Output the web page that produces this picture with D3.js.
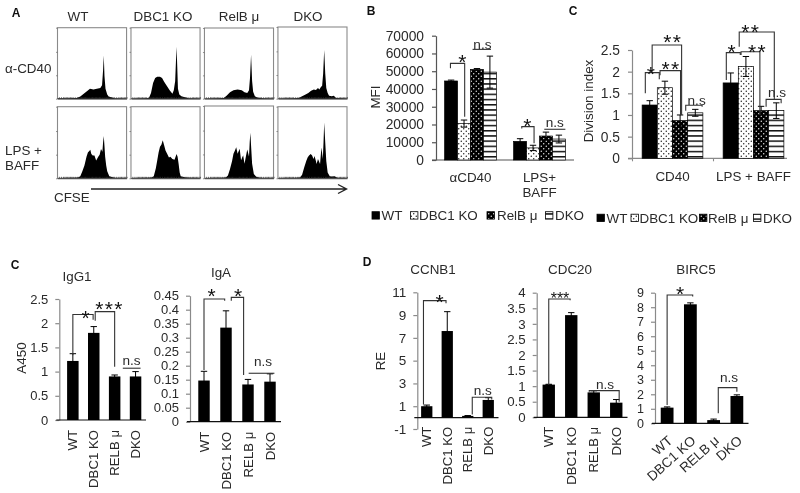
<!DOCTYPE html>
<html><head><meta charset="utf-8">
<script src="https://cdn.jsdelivr.net/npm/d3@7"></script>
<style>html,body{margin:0;padding:0;background:#fff;overflow:hidden}svg{display:block;filter:blur(.35px)}text{font-family:"Liberation Sans",Arial,sans-serif;fill:#2a2a2a}</style>
</head><body><svg id="c" width="800" height="493"></svg>
<script>
// ---------- DATA ----------
const genotypes = ["WT","DBC1 KO","RelB μ","DKO"];
const genotypesUpper = ["WT","DBC1 KO","RELB μ","DKO"];
// panel A histograms: [CFSE channel %, count %]
const histCD40 = [
 [[0,.5],[15,.8],[28,1],[33,3],[38,7],[43,11],[47,14],[52,13],[57,14],[62,15],[64.5,19],[66,40],[67,61],[68,32],[69.5,14],[72,6],[74,3],[78,2],[82,.7],[100,.4]],
 [[0,.4],[20,.6],[26,1],[29,8],[32,22],[35,29],[38,31],[42,31],[45,29],[48,24],[52,18],[56,12],[60,7],[62,12],[64,25],[65,50],[66,73],[67,45],[68,14],[70,6],[73,3.5],[78,2],[83,.8],[100,.4]],
 [[0,.4],[20,.6],[28,1],[32,4],[37,9],[42,12],[48,13],[54,12],[58,9],[62,8],[64.5,12],[66,30],[67.5,62],[69,25],[70.5,10],[73,3.5],[77,1.5],[85,.8],[100,.4]],
 [[0,.4],[22,.6],[30,1],[35,3.5],[40,6],[44,8],[48,11],[52,13],[55,12],[58,15],[60,13],[62,16],[64,18],[65.5,35],[67,68],[68.5,35],[70,15],[72,8],[74,4],[78,3.5],[81,4],[84,1],[100,.4]]
];
const histLPS = [
 [[0,.4],[20,.6],[30,1],[33,3],[36,10],[39,18],[42,30],[44,36],[46,38],[47.5,40],[49,34],[51,32],[53.5,32],[56,25],[59,30],[61,33],[63,41],[65,37],[66,50],[67,59],[68,45],[69,30],[70.5,18],[72,10],[75,3],[82,.8],[100,.4]],
 [[0,.4],[20,.6],[30,1],[33,3],[36,14],[38,25],[40,36],[42,44],[44,47],[46,53],[48,46],[50,39],[52,35],[55,29],[57,30],[60,27],[63,26],[65,31],[66,34],[67.5,30],[69,20],[70.5,8],[72,3],[79,1],[100,.4]],
 [[0,.4],[22,.6],[31,1],[34,4],[37,13],[40,24],[42,34],[44,38],[46,43],[48,34],[51,41],[53,25],[56,32],[58,20],[60,30],[62,40],[64.5,30],[65.5,50],[66.5,63],[67.5,45],[69,20],[71.5,6],[75,2],[80,.6],[100,.4]],
 [[0,.4],[24,.6],[32,1],[35,5],[38,15],[41,24],[43,29],[45,32],[47.5,34],[49.5,32],[51.5,27],[53,31],[55,24],[56,20],[58,27],[61,20],[62,32],[63,43],[65,27],[66,50],[67,78],[68.5,50],[70,24],[72,8],[75,3],[78,2.5],[82,3],[86,.8],[100,.4]]
];
const histMinorTicks = [2,5,8,10,12,14,16,18,20,22,25,28,30,32,34,36,38,40,42,45,48,50,52,54,56,58,60,62,65,68,70,72,74,76,78,80,82,85,88,90,92,94,96,98,100];
const histCountTicks = [0,33,66,100];

// panel B
const mfiGroups = ["αCD40","LPS+\nBAFF"];
const mfiValues = [[44500,20500,51000,49500],[10500,6800,13500,11800]];
const mfiErrors = [[500,2000,500,9000],[1500,1500,2200,2200]];
const mfiTicks = [0,10000,20000,30000,40000,50000,60000,70000];
const mfiBrackets = [[0,-.05,51600,54400,1.05,24400],[0,1.66,62300,62300,3.08,62300],[1,.13,17800,18800,1.08,9400],[1,1.87,17300,17300,3.5,17300]];
const mfiNotes = [[0,.79,57800,"*"],[0,2.42,62500,"n.s"],[1,.47,22100,"*"],[1,2.68,18400,"n.s"]];

// panel C top
const divGroups = ["CD40","LPS + BAFF"];
const divValues = [[1.23,1.63,.87,1.05],[1.74,2.12,1.1,1.1]];
const divErrors = [[.1,.15,.13,.08],[.23,.23,.1,.18]];
const divTicks = [0,.5,1,1.5,2,2.5];
const divBrackets = [[0,-.29,1.5,1.977,.63,1.823],[0,.16,2,2.615,2.1,1],[0,.68,1.92,2.023,2.03,1],[0,2.37,1.1,1.223,3.45,1.19],
 [1,-.29,1.81,2.44,.63,2.385],[1,.56,2.577,2.915,2.87,1.346],[1,.68,2.385,2.46,1.92,1],[1,2.33,1.19,1.36,3.32,1.27]];
const divNotes = [[0,0,2.06,"*"],[0,1.4,2.79,"* *"],[0,1.29,2.18,"* *"],[0,3.09,1.23,"n.s"],[1,-.02,2.58,"*"],[1,1.2,3.04,"* *"],[1,1.65,2.56,"* *"],[1,3.05,1.41,"n.s"]];

// panel C bottom
const igg1Values = [1.22,1.8,.9,.9], igg1Errors = [.15,.13,.03,.1], igg1Ticks = [0,.5,1,1.5,2,2.5];
const igg1Brackets = [[0,1.34,2.18,.97,2.07],[1.07,2.05,2.24,2,1.1],[2.39,1.07,1.07,3.24,1.07]];
const igg1Notes = [[.56,2.22,"*"],[1.67,2.39,"* * *"],[2.81,1.14,"n.s"]];
const igaValues = [.147,.336,.133,.143], igaErrors = [.033,.06,.018,.028], igaTicks = [0,.05,.1,.15,.2,.25,.3,.35,.4,.45];
const igaBrackets = [[0,.185,.438,.94,.432],[1.24,.432,.444,1.8,.167],[2.03,.173,.173,3.2,.173]];
const igaNotes = [[.29,.468,"*"],[1.5,.468,"*"],[2.68,.199,"n.s"]];

// panel D
const ccnb1Values = [1,7.6,.15,1.55], ccnb1Errors = [.1,1.7,.03,.2], ccnb1Ticks = [-1,1,3,5,7,9,11];
const ccnb1Brackets = [[-.16,1.15,10.27,.94,10.04],[2.22,.27,1.79,3.17,1.58]];
const ccnb1Notes = [[.57,10.6,"*"],[2.73,2.02,"n.s"]];
const cdc20Values = [1.05,3.28,.8,.47], cdc20Errors = [.01,.08,.05,.1], cdc20Ticks = [0,.5,1,1.5,2,2.5,3,3.5,4];
const cdc20Brackets = [[0,1.04,3.8,.95,3.76],[1.8,.82,.855,3.13,.5]];
const cdc20Notes = [[.5,3.93,"***"],[2.5,.91,"n.s"]];
const birc5Values = [1.08,8.2,.22,1.88], birc5Errors = [.05,.1,.07,.08], birc5Ticks = [0,1,2,3,4,5,6,7,8,9];
const birc5Brackets = [[0,1.26,8.84,1.1,8.73],[2.2,.69,2.46,3,2.18]];
const birc5Notes = [[.51,9.25,"*"],[2.66,2.82,"n.s"]];

// ---------- DRAW ----------
const svg = d3.select("#c");
const defs = svg.append("defs");
function dots(id,bg,fg,r){const p=defs.append("pattern").attr("id",id).attr("patternUnits","userSpaceOnUse").attr("width",5).attr("height",5);
 p.append("rect").attr("width",5).attr("height",5).attr("fill",bg);
 [[1.25,1.25],[3.75,3.75]].forEach(d=>p.append("circle").attr("cx",d[0]).attr("cy",d[1]).attr("r",r).attr("fill",fg));}
dots("pDots","#fff","#111",.7); dots("pInv","#000","#fff",.65);
const ps=defs.append("pattern").attr("id","pStripe").attr("patternUnits","userSpaceOnUse").attr("width",5).attr("height",5.2);
ps.append("rect").attr("width",5).attr("height",5.2).attr("fill","#fff");
ps.append("rect").attr("width",5).attr("height",1.5).attr("fill","#111");
const fills=["#000","url(#pDots)","url(#pInv)","url(#pStripe)"];

function txt(x,y,s,o={}){const t=svg.append("text").attr("x",x).attr("y",y).attr("font-size",o.size||13.4)
  .attr("text-anchor",o.anchor||"middle").attr("dominant-baseline","central").text(s);
  if(o.bold)t.attr("font-weight","bold").style("fill","#111");
  if(o.rot)t.attr("transform",`rotate(${o.rot} ${x} ${y})`);return t;}
[["A",16,13],["B",371,11],["C",573,11],["C",15,265],["D",367,262]].forEach(d=>txt(d[1],d[2],d[0],{bold:true,size:12}));

function note(g,x,y,s){
 if(s.includes("*")){const fs=s==="***"?16:21;
  g.append("text").attr("x",x).attr("y",y+.57*fs).attr("text-anchor","middle").attr("font-size",fs)
   .attr("letter-spacing",s==="***"?"0":"-2.2").style("fill","#111").text(s);
 } else g.append("text").attr("x",x).attr("y",y).attr("text-anchor","middle").attr("font-size",13.6).text(s);
}
function yAxisDraw(y,ticks,x0,color,pad,size){
 const a=svg.append("g").attr("transform",`translate(${x0},0)`)
  .call(d3.axisLeft(y).tickValues(ticks).tickSize(4).tickSizeOuter(0).tickPadding(pad).tickFormat(d=>String(d)));
 a.selectAll("path,line").attr("stroke",color).attr("stroke-width",1.2);
 a.selectAll("text").style("font-size",size+"px").attr("font-family",null);
 return a;
}
function bars(g,x,w,y,vals,errs,fillFn,outline){
 g.selectAll("rect.b").data(vals).join("rect").attr("class","b")
  .attr("x",(d,i)=>x(i)-w/2).attr("width",w).attr("y",d=>y(d)).attr("height",d=>y(0)-y(d))
  .attr("fill",(d,i)=>fillFn(i)).attr("stroke",outline?"#000":"none").attr("stroke-width",.7);
 const cap=3.2;
 vals.forEach((v,i)=>{const cx=x(i),hi=y(v+errs[i]),lo=y(Math.max(0,v-errs[i]));
  g.append("path").attr("d",`M${cx},${lo}V${hi}M${cx-cap},${hi}H${cx+cap}M${cx-cap},${lo}H${cx+cap}`)
   .attr("fill","none").attr("stroke","#000").attr("stroke-width",1);});
}
function bracket(g,xa,ya,top,xb,yb){g.append("path").attr("d",`M${xa},${ya}V${top}H${xb}V${yb}`).attr("fill","none").attr("stroke","#333").attr("stroke-width",1.1);}

// Panel A
const colX=d3.scaleBand().domain(d3.range(4)).range([57.5,347]).paddingInner(.06);
const frameTops=[[27.7,27.7,28,27],[106.7,106.7,106,106.7]];
const frameBots=[98.7,178.3];
[histCD40,histLPS].forEach((row,r)=>row.forEach((h,c)=>{
 const x0=colX(c),x1=x0+colX.bandwidth(),top=frameTops[r][c],bot=frameBots[r];
 const X=d3.scaleLinear().domain([0,100]).range([x0,x1]),Y=d3.scaleLinear().domain([0,100]).range([bot,top]);
 svg.append("rect").attr("x",x0).attr("y",top).attr("width",x1-x0).attr("height",bot-top).attr("fill","#fff").attr("stroke","#8a8a8a").attr("stroke-width",1.1);
 svg.append("path").datum(h).attr("fill","#000").attr("d",d3.area().x(d=>X(d[0])).y0(bot).y1(d=>Y(d[1])));
 const ax=svg.append("g").attr("transform",`translate(0,${bot})`).call(d3.axisTop(X).tickValues(histMinorTicks).tickSize(1.5).tickSizeOuter(0).tickFormat(""));
 ax.selectAll("path,line").attr("stroke","#333").attr("stroke-width",.7);
 const ay=svg.append("g").attr("transform",`translate(${x0},0)`).call(d3.axisLeft(Y).tickValues(histCountTicks).tickSize(1.5).tickSizeOuter(0).tickFormat(""));
 ay.selectAll("line").attr("stroke","#666").attr("stroke-width",.7);ay.select("path").attr("stroke","none");
}));
[[78,"WT"],[163,"DBC1 KO"],[239,"RelB μ"],[308,"DKO"]].forEach(d=>txt(d[0],16,d[1]));
txt(5,68,"α-CD40",{anchor:"start"});txt(5,150,"LPS +",{anchor:"start"});txt(5,165,"BAFF",{anchor:"start"});txt(54,197,"CFSE",{anchor:"start"});
svg.append("path").attr("d","M91,189H346M338,184.5L346.5,189L338,193.5").attr("fill","none").attr("stroke","#222").attr("stroke-width",1.4);

// grouped panels
function grouped(o){
 const y=d3.scaleLinear().domain(o.domain).range(o.yRange);
 const gx=d3.scaleBand().domain(d3.range(2)).range(o.xRange).paddingInner(o.pad*2).paddingOuter(o.pad);
 const w=gx.bandwidth()/4,slot=(g,i)=>gx(g)+(i+.5)*w;
 svg.append("path").attr("d",`M${o.lineStart},${y(0)}H${o.lineEnd}`).attr("stroke",o.axisColor).attr("stroke-width",1.2);
 yAxisDraw(y,o.ticks,o.xRange[0],o.axisColor,o.tickPad,13.8);
 o.values.forEach((vals,g)=>bars(svg.append("g"),i=>slot(g,i),w,y,vals,o.errors[g],i=>fills[i],true));
 o.brackets.forEach(b=>bracket(svg,slot(b[0],b[1]),y(b[2]),y(b[3]),slot(b[0],b[4]),y(b[5])));
 o.notes.forEach(n=>note(svg,slot(n[0],n[1]),y(n[2]),n[3]));
 o.groups.forEach((name,g)=>name.split("\n").forEach((l,k)=>txt(gx(g)+gx.bandwidth()/2,o.labelY+k*15.7,l)));
 return {y,gx};
}
grouped({groups:mfiGroups,values:mfiValues,errors:mfiErrors,ticks:mfiTicks,domain:[0,70000],yRange:[160,35.7],xRange:[436,574],pad:.125,lineStart:432,lineEnd:574,axisColor:"#555",tickPad:8,brackets:mfiBrackets,notes:mfiNotes,labelY:177});
txt(375,97,"MFI",{rot:-90});
grouped({groups:divGroups,values:divValues,errors:divErrors,ticks:divTicks,domain:[0,2.5],yRange:[158.3,50],xRange:[632,794],pad:.125,lineStart:628,lineEnd:787,axisColor:"#8a8a8a",tickPad:8,brackets:divBrackets,notes:divNotes,labelY:176});
const dx=svg.append("g").attr("transform","translate(0,158.3)").call(d3.axisBottom(d3.scaleLinear().domain([0,2]).range([632,794])).tickValues([0,1]).tickSize(3).tickSizeOuter(0).tickFormat(""));
dx.selectAll("line").attr("stroke","#8a8a8a").attr("stroke-width",1.1);dx.select("path").attr("stroke","none");
txt(588,101,"Division index",{rot:-90});

// legends
function legend(items){items.forEach(it=>{
 svg.append("rect").attr("x",it[0]).attr("y",it[2]-3.8).attr("width",7.4).attr("height",7.4).attr("fill",fills[it[3]]).attr("stroke","#000").attr("stroke-width",.8);
 txt(it[1],it[2],genotypes[it[3]],{anchor:"start"});});}
legend([[372,381.5,215.5,0],[410.5,419,215.5,1],[487,497,215.5,2],[545.5,555,215.5,3]]);
legend([[597,606.5,218,0],[631,639.5,218,1],[699.5,708,218,2],[753.5,763,218,3]]);

// simple panels
function simple(o){
 const y=d3.scaleLinear().domain(o.domain).range(o.yRange);
 const x=d3.scaleBand().domain(genotypesUpper).range(o.xRange);
 const cx=i=>x(genotypesUpper[0])+x.step()*(i+.5);
 const w=x.step()*o.barFrac;
 yAxisDraw(y,o.ticks,o.axisX,"#8a8a8a",o.tickPad||7,o.tickFont);
 const xa=svg.append("g").attr("transform",`translate(0,${y(0)})`).call(d3.axisBottom(x).tickSize(0).tickPadding(0));
 xa.select("path").remove();
 svg.append("path").attr("d",`M${o.axisX-3},${y(0)}H${o.xRange[1]}`).attr("stroke","#111").attr("stroke-width",1.2);
 xa.selectAll("text").style("font-size",(o.diag?13.6:13.2)+"px").attr("font-family",null)
   .attr("y",0).attr("dy",".35em").attr("text-anchor","end")
   .attr("transform",o.diag?"translate(3,15) rotate(-42)":`translate(0,${o.labelGap}) rotate(-90)`);
 bars(svg.append("g"),cx,w,y,o.values,o.errors,()=>"#000",false);
 o.brackets.forEach(b=>bracket(svg,cx(b[0]),y(b[1]),y(b[2]),cx(b[3]),y(b[4])));
 o.notes.forEach(n=>note(svg,cx(n[0]),y(n[1]),n[2]));
 txt(o.titleX,o.titleY,o.title);
}
simple({title:"IgG1",titleX:77,titleY:276,values:igg1Values,errors:igg1Errors,ticks:igg1Ticks,domain:[0,2.5],yRange:[420,299],xRange:[62.4,146],axisX:59.3,barFrac:.55,labelGap:10,tickFont:13,brackets:igg1Brackets,notes:igg1Notes});
simple({title:"IgA",titleX:221,titleY:272,values:igaValues,errors:igaErrors,ticks:igaTicks,domain:[0,.45],yRange:[421.7,295.7],xRange:[193,281],axisX:190,barFrac:.52,labelGap:10,tickFont:13,brackets:igaBrackets,notes:igaNotes});
simple({title:"CCNB1",titleX:433,titleY:269,values:ccnb1Values,errors:ccnb1Errors,ticks:ccnb1Ticks,domain:[-1,11],yRange:[429,292.3],xRange:[416.5,498.5],axisX:417.3,barFrac:.55,labelGap:9,tickFont:13.5,brackets:ccnb1Brackets,notes:ccnb1Notes});
simple({title:"CDC20",titleX:570,titleY:269,values:cdc20Values,errors:cdc20Errors,ticks:cdc20Ticks,domain:[0,4],yRange:[417.3,292.7],xRange:[537.5,627.5],axisX:536.7,barFrac:.55,labelGap:9.5,tickFont:13.3,brackets:cdc20Brackets,notes:cdc20Notes});
simple({title:"BIRC5",titleX:696,titleY:269,values:birc5Values,errors:birc5Errors,ticks:birc5Ticks,domain:[0,9],yRange:[423.3,292.7],xRange:[655.5,748.5],axisX:655,barFrac:.55,diag:true,tickFont:12.5,brackets:birc5Brackets,notes:birc5Notes});
txt(21.7,358,"A450",{rot:-90});txt(380,361,"RE",{rot:-90});
</script></body></html>
